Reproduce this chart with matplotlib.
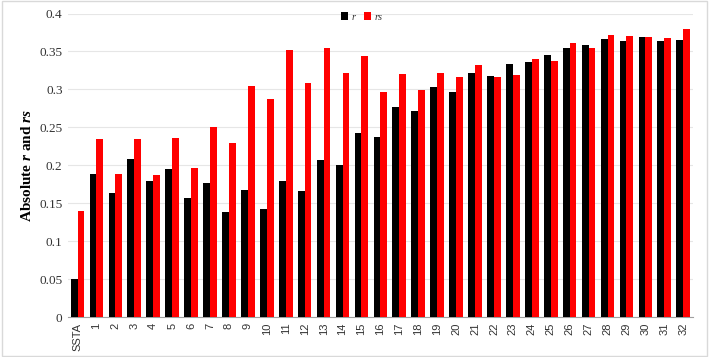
import numpy as np
import matplotlib.pyplot as plt
from matplotlib.patches import Rectangle

plt.rcParams['mathtext.fontset'] = 'custom'
plt.rcParams['mathtext.it'] = 'Liberation Serif:italic:bold'
plt.rcParams['mathtext.rm'] = 'Liberation Serif:bold'

categories = ['SSTA'] + [str(i) for i in range(1, 33)]

r_vals = [0.050, 0.188, 0.164, 0.208, 0.179, 0.195, 0.157, 0.176, 0.139, 0.167,
          0.143, 0.179, 0.166, 0.207, 0.201, 0.243, 0.237, 0.277, 0.271, 0.303,
          0.297, 0.321, 0.318, 0.334, 0.336, 0.346, 0.354, 0.358, 0.366, 0.364,
          0.369, 0.364, 0.365]

rs_vals = [0.140, 0.234, 0.189, 0.235, 0.187, 0.236, 0.197, 0.251, 0.229, 0.304,
           0.288, 0.352, 0.309, 0.355, 0.322, 0.344, 0.297, 0.320, 0.299, 0.322,
           0.316, 0.332, 0.317, 0.319, 0.340, 0.338, 0.361, 0.355, 0.372, 0.371,
           0.369, 0.368, 0.379]

yticks = [0, 0.05, 0.1, 0.15, 0.2, 0.25, 0.3, 0.35, 0.4]
ytick_labels = ['0', '0.05', '0.1', '0.15', '0.2', '0.25', '0.3', '0.35', '0.4']

fig = plt.figure(figsize=(7.09, 3.57), dpi=100)
ax = fig.add_axes([0.096, 0.112, 0.881, 0.85])

x = np.arange(len(categories))
w = 0.36
ax.bar(x - w / 2, r_vals, width=w, color='black', label='r', zorder=3)
ax.bar(x + w / 2, rs_vals, width=w, color='#ff0000', label='rs', zorder=3)

ax.set_xlim(-0.5, len(categories) - 0.5)
ax.set_ylim(0, 0.4)
ax.set_yticks(yticks)
ax.set_yticklabels(ytick_labels, fontfamily='Liberation Serif', fontsize=9.5, color='#333333')
ax.set_xticks(x)
ax.set_xticklabels(categories, rotation=90, fontfamily='Liberation Sans', fontsize=8, color='#333333')
ax.tick_params(axis='both', length=0, pad=4)

ax.grid(axis='y', color='#e6e6e6', linewidth=0.8, zorder=0)
for s in ['left', 'top', 'right']:
    ax.spines[s].set_visible(False)
ax.spines['bottom'].set_color('#a0a0a0')

ax.set_ylabel(r'Absolute $r$ and $rs$', fontfamily='Liberation Serif', fontweight='bold', fontsize=11)

leg = ax.legend(loc='upper center', bbox_to_anchor=(0.47, 1.035), ncol=2, frameon=False,
                prop={'family': 'Liberation Serif', 'style': 'italic', 'size': 7.5},
                handlelength=0.7, handleheight=0.7, columnspacing=0.8, handletextpad=0.3)
for t in leg.get_texts():
    t.set_color('#333333')

fig.patches.append(Rectangle((0.003, 0.003), 0.994, 0.994, transform=fig.transFigure,
                             fill=False, edgecolor='#d9d9d9', linewidth=1))

fig.savefig('out.png', dpi=100)
